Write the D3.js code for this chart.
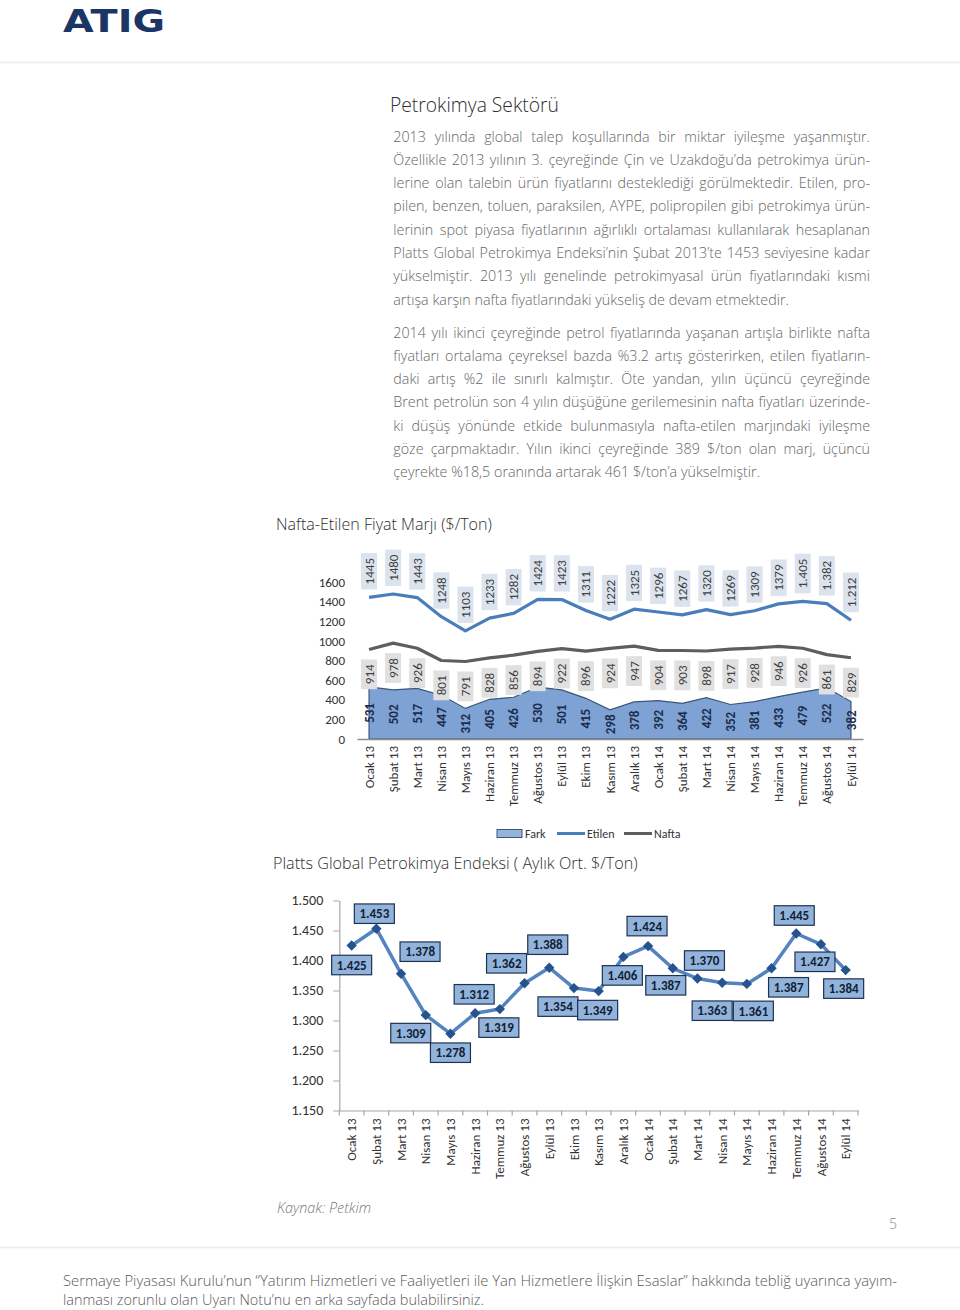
<!DOCTYPE html>
<html>
<head>
<meta charset="utf-8">
<script src="https://cdn.jsdelivr.net/npm/d3@7"></script>
<style>
  body { margin: 0; background: #fff; }
  svg { display: block; }
</style>
</head>
<body>
<svg id="page" width="960" height="1310"></svg>
<script>
// ---------------- DATA ----------------
const months = ["Ocak 13","Şubat 13","Mart 13","Nisan 13","Mayıs 13","Haziran 13","Temmuz 13","Ağustos 13","Eylül 13","Ekim 13","Kasım 13","Aralık 13","Ocak 14","Şubat 14","Mart 14","Nisan 14","Mayıs 14","Haziran 14","Temmuz 14","Ağustos 14","Eylül 14"];
const fark   = [531,502,517,447,312,405,426,530,501,415,298,378,392,364,422,352,381,433,479,522,382];
const etilen = [1445,1480,1443,1248,1103,1233,1282,1424,1423,1311,1222,1325,1296,1267,1320,1269,1309,1379,1405,1382,1212];
const nafta  = [914,978,926,801,791,828,856,894,922,896,924,947,904,903,898,917,928,946,926,861,829];
const marginTicks = [0,200,400,600,800,1000,1200,1400,1600];
const seriesNames = ["Fark","Etilen","Nafta"];
const etilenSeparatorFrom = "Temmuz 14"; // labels from this month on are printed with a thousands dot

const platts = [1425,1453,1378,1309,1278,1312,1319,1362,1388,1354,1349,1406,1424,1387,1370,1363,1361,1387,1445,1427,1384];
const plattsTicks = [1150,1200,1250,1300,1350,1400,1450,1500];

const chart1Title = "Nafta-Etilen Fiyat Marjı ($/Ton)";
const chart2Title = "Platts Global Petrokimya Endeksi ( Aylık Ort. $/Ton)";

// ---------------- TEXT ----------------
const para1 = [
  "2013 yılında global talep koşullarında bir miktar iyileşme yaşanmıştır.",
  "Özellikle 2013 yılının 3. çeyreğinde Çin ve Uzakdoğu’da petrokimya ürün-",
  "lerine olan talebin ürün fiyatlarını desteklediği görülmektedir. Etilen, pro-",
  "pilen, benzen, toluen, paraksilen, AYPE, polipropilen gibi petrokimya ürün-",
  "lerinin spot piyasa fiyatlarının ağırlıklı ortalaması kullanılarak hesaplanan",
  "Platts Global Petrokimya Endeksi’nin Şubat 2013’te 1453 seviyesine kadar",
  "yükselmiştir. 2013 yılı genelinde petrokimyasal ürün fiyatlarındaki kısmi",
  "artışa karşın nafta fiyatlarındaki yükseliş de devam etmektedir."
];
const para2 = [
  "2014 yılı ikinci çeyreğinde petrol fiyatlarında yaşanan artışla birlikte nafta",
  "fiyatları ortalama çeyreksel bazda %3.2 artış gösterirken, etilen fiyatların-",
  "daki artış %2 ile sınırlı kalmıştır. Öte yandan, yılın üçüncü çeyreğinde",
  "Brent petrolün son 4 yılın düşüğüne gerilemesinin nafta fiyatları üzerinde-",
  "ki düşüş yönünde etkide bulunmasıyla nafta-etilen marjındaki iyileşme",
  "göze çarpmaktadır. Yılın ikinci çeyreğinde 389 $/ton olan marj, üçüncü",
  "çeyrekte %18,5 oranında artarak 461 $/ton’a yükselmiştir."
];
const footer = [
  "Sermaye Piyasası Kurulu’nun “Yatırım Hizmetleri ve Faaliyetleri ile Yan Hizmetlere İlişkin Esaslar” hakkında tebliğ uyarınca yayım-",
  "lanması zorunlu olan Uyarı Notu’nu en arka sayfada bulabilirsiniz."
];

// ---------------- SETUP ----------------
const FONT_CHART = "Carlito, Lato, sans-serif";
const FONT_TEXT = "'Open Sans', sans-serif";
const svg = d3.select("#page");
const trLocale = d3.formatLocale({decimal: ",", thousands: ".", grouping: [3], currency: ["", ""]});
const fmtTR = trLocale.format(",d");
const fmtPlain = d3.format("d");

function fitText(sel, target) {
  const fs = parseFloat(sel.attr("font-size"));
  const L = sel.node().getComputedTextLength();
  sel.attr("font-size", fs * target / L);
  return sel;
}

// ---------------- HEADER ----------------
svg.append("text").attr("x", 63).attr("y", 31.5)
  .attr("font-family", "'DejaVu Sans', sans-serif").attr("font-weight", "bold")
  .attr("font-size", 32.5).attr("fill", "#1b3564")
  .attr("textLength", 102).attr("lengthAdjust", "spacingAndGlyphs")
  .text("ATIG");
svg.append("line").attr("x1", 0).attr("x2", 960).attr("y1", 62.5).attr("y2", 62.5)
  .attr("stroke", "#ececec").attr("stroke-width", 1.5);

// ---------------- BODY TEXT ----------------
const titleSel = svg.append("text").attr("x", 390).attr("y", 112)
  .attr("font-family", FONT_TEXT).attr("font-weight", 300).attr("font-size", 20).attr("fill", "#2e2e2e")
  .text("Petrokimya Sektörü");
fitText(titleSel, 169);

// compute body font size from a naturally-set last line
const probe = svg.append("text").attr("font-family", FONT_TEXT).attr("font-weight", 300)
  .attr("font-size", 14).text(para1[para1.length - 1]);
const bodyFs = 14 * 396 / probe.node().getComputedTextLength();
probe.remove();

function paragraph(lines, y0) {
  const lh = 23.3, x = 393.3, width = 476.7;
  lines.forEach((ln, i) => {
    const t = svg.append("text").attr("x", x).attr("y", y0 + i * lh)
      .attr("font-family", FONT_TEXT).attr("font-weight", 300)
      .attr("font-size", bodyFs).attr("fill", "#666").text(ln);
    if (i < lines.length - 1) {
      const L = t.node().getComputedTextLength();
      const n = (ln.match(/ /g) || []).length;
      if (n > 0) t.style("word-spacing", ((width - L) / n) + "px");
    }
  });
}
paragraph(para1, 141.5);
paragraph(para2, 337.5);

// ---------------- CHART 1 ----------------
const t1 = svg.append("text").attr("x", 276).attr("y", 530)
  .attr("font-family", FONT_TEXT).attr("font-weight", 300).attr("font-size", 17).attr("fill", "#2e2e2e").text(chart1Title);
fitText(t1, 216);

const x1 = d3.scaleBand().domain(months).range([357, 863]);
const cx1 = m => x1(m) + x1.bandwidth() / 2;
const y1 = d3.scaleLinear().domain([0, 1600]).range([739, 582.2]);
const g1 = svg.append("g");

// Fark area
g1.append("path").datum(fark)
  .attr("d", d3.area().x((d, i) => cx1(months[i])).y0(y1(0)).y1(d => y1(d)))
  .attr("fill", "#7ea2d3").attr("stroke", "#3c5678").attr("stroke-width", 1.2);

// axes
g1.append("g").attr("transform", "translate(348,0)")
  .call(d3.axisLeft(y1).tickValues(marginTicks).tickSize(0).tickPadding(3).tickFormat(fmtPlain))
  .call(g => g.select(".domain").remove())
  .selectAll("text").attr("font-size", 13).attr("font-family", FONT_CHART).attr("fill", "#333");

g1.append("g").attr("transform", "translate(0,739)")
  .call(d3.axisBottom(x1).tickSize(0).tickSizeOuter(0))
  .call(g => g.select(".domain").attr("stroke", "#8c8c8c").attr("stroke-width", 1.6))
  .selectAll("text")
  .attr("transform", "rotate(-90)").attr("x", -7).attr("y", 0).attr("dy", "0.35em")
  .style("text-anchor", "end").attr("font-size", 13).attr("font-family", FONT_CHART).attr("fill", "#333");

// lines
const lineGen1 = d3.line().x((d, i) => cx1(months[i])).y(d => y1(d));
g1.append("path").datum(nafta).attr("d", lineGen1).attr("fill", "none")
  .attr("stroke", "#5e5e5e").attr("stroke-width", 3.2).attr("stroke-linejoin", "round");
g1.append("path").datum(etilen).attr("d", lineGen1).attr("fill", "none")
  .attr("stroke", "#4a7ebb").attr("stroke-width", 3.2).attr("stroke-linejoin", "round");

// labels
const sepIdx = months.indexOf(etilenSeparatorFrom);
function rotLabel(parent, text, boxFill, above) {
  const g = parent.append("g");
  const t = g.append("text").attr("font-family", FONT_CHART).attr("font-size", 13)
    .attr("fill", "#404040").attr("text-anchor", "middle").attr("dy", "0.35em")
    .attr("transform", "rotate(-90)").text(text);
  const L = t.node().getComputedTextLength();
  const h = L + 10;
  const off = above ? -h / 2 : h / 2;
  g.insert("rect", "text").attr("x", -8).attr("width", 16)
    .attr("y", above ? -h : 0).attr("height", h).attr("fill", boxFill);
  t.attr("transform", `translate(0,${off}) rotate(-90)`);
  return g;
}
etilen.forEach((v, i) => {
  const lbl = i >= sepIdx ? fmtTR(v) : fmtPlain(v);
  rotLabel(g1, lbl, "#dbe3ee", true)
    .attr("transform", `translate(${cx1(months[i])},${y1(v) - 8})`);
});
nafta.forEach((v, i) => {
  rotLabel(g1, fmtPlain(v), "#e0e0e0", false)
    .attr("transform", `translate(${cx1(months[i])},${y1(v) + 10})`);
});
fark.forEach((v, i) => {
  g1.append("text").attr("font-family", FONT_CHART).attr("font-size", 13).attr("font-weight", "bold")
    .attr("fill", "#1c2c4a").attr("text-anchor", "middle").attr("dy", "0.35em")
    .attr("transform", `translate(${cx1(months[i])},${y1(v / 2)}) rotate(-90)`)
    .text(fmtPlain(v));
});

// legend
const legend = svg.append("g").attr("font-family", FONT_CHART).attr("font-size", 12).attr("fill", "#333");
const legendX = [497, 557, 624];
seriesNames.forEach((name, i) => {
  const lx = legendX[i];
  if (i === 0) {
    legend.append("rect").attr("x", lx).attr("y", 829.5).attr("width", 25).attr("height", 8)
      .attr("fill", "#94b4dd").attr("stroke", "#3c5678").attr("stroke-width", 1);
  } else {
    legend.append("line").attr("x1", lx).attr("x2", lx + 28).attr("y1", 833.5).attr("y2", 833.5)
      .attr("stroke", i === 1 ? "#4a7ebb" : "#5e5e5e").attr("stroke-width", 3);
  }
  legend.append("text").attr("x", lx + (i === 0 ? 28 : 30)).attr("y", 837.5).text(name);
});

// ---------------- CHART 2 ----------------
const t2 = svg.append("text").attr("x", 273).attr("y", 869)
  .attr("font-family", FONT_TEXT).attr("font-weight", 300).attr("font-size", 17).attr("fill", "#2e2e2e").text(chart2Title);
fitText(t2, 365);

const x2 = d3.scaleBand().domain(months).range([339.3, 858]);
const cx2 = m => x2(m) + x2.bandwidth() / 2;
const y2 = d3.scaleLinear().domain([1150, 1500]).range([1110.5, 900.5]);
const g2 = svg.append("g");

g2.append("g").attr("transform", "translate(339.3,0)")
  .call(d3.axisLeft(y2).tickValues(plattsTicks).tickSize(6).tickSizeOuter(0).tickPadding(10).tickFormat(fmtTR))
  .call(g => g.select(".domain").attr("stroke", "#a6a6a6").attr("stroke-width", 1.2))
  .call(g => g.selectAll(".tick line").attr("stroke", "#a6a6a6"))
  .selectAll("text").attr("font-size", 14).attr("font-family", FONT_CHART).attr("fill", "#333");

g2.append("g").attr("transform", "translate(0,1110.5)")
  .call(d3.axisBottom(x2).tickSize(0).tickSizeOuter(0))
  .call(g => g.select(".domain").attr("stroke", "#a6a6a6").attr("stroke-width", 1.2))
  .selectAll("text")
  .attr("transform", "rotate(-90)").attr("x", -8).attr("y", 0).attr("dy", "0.35em")
  .style("text-anchor", "end").attr("font-size", 13).attr("font-family", FONT_CHART).attr("fill", "#333");

// category boundary ticks
g2.append("g").selectAll("line").data(months.map(m => x2(m)).concat([x2.range()[1]]))
  .join("line").attr("x1", d => d).attr("x2", d => d)
  .attr("y1", 1110.5).attr("y2", 1115.5).attr("stroke", "#a6a6a6").attr("stroke-width", 1.2);

g2.append("path").datum(platts)
  .attr("d", d3.line().x((d, i) => cx2(months[i])).y(d => y2(d)))
  .attr("fill", "none").attr("stroke", "#5483c0").attr("stroke-width", 3.5).attr("stroke-linejoin", "round");

g2.selectAll("path.mk").data(platts).join("path").attr("class", "mk")
  .attr("d", "M0,-5.2L5.2,0L0,5.2L-5.2,0Z")
  .attr("transform", (d, i) => `translate(${cx2(months[i])},${y2(d)})`)
  .attr("fill", "#24538f");

// label placement (dx, dy of box centre relative to its point)
const plattsLabelOffsets = [
  [0,19.5],[-2,-15],[19,-22],[-15,18],[0,19],[-1,-19],[-1,18.5],[-18,-20],[-1.5,-23],[-16,18.5],
  [-1,19],[-1,18.5],[-1,-20],[-7,17],[7,-18],[-10,28],[6.5,27],[17,19],[-2,-18],[-6,17.5],[-2,18.5]
];
platts.forEach((v, i) => {
  const [dx, dy] = plattsLabelOffsets[i];
  const g = g2.append("g").attr("transform", `translate(${cx2(months[i]) + dx},${y2(v) + dy})`);
  g.append("rect").attr("x", -20).attr("y", -9.75).attr("width", 40).attr("height", 19.5)
    .attr("fill", "#93b3da").attr("stroke", "#1d3354").attr("stroke-width", 1.2);
  g.append("text").attr("text-anchor", "middle").attr("dy", "0.36em")
    .attr("font-family", FONT_CHART).attr("font-size", 13).attr("font-weight", "bold")
    .attr("fill", "#0f1f38").text(fmtTR(v));
});

// ---------------- FOOTER ----------------
svg.append("text").attr("x", 277).attr("y", 1213)
  .attr("font-family", FONT_TEXT).attr("font-style", "italic").attr("font-weight", 300)
  .attr("font-size", 14).attr("fill", "#7a7a7a")
  .attr("textLength", 94).attr("lengthAdjust", "spacingAndGlyphs").text("Kaynak: Petkim");
svg.append("text").attr("x", 889).attr("y", 1229)
  .attr("font-family", FONT_TEXT).attr("font-weight", 300).attr("font-size", 14).attr("fill", "#8a8a8a").text("5");
svg.append("line").attr("x1", 0).attr("x2", 960).attr("y1", 1247.5).attr("y2", 1247.5)
  .attr("stroke", "#ececec").attr("stroke-width", 1.5);
const footW = [834, 421];
footer.forEach((ln, i) => {
  svg.append("text").attr("x", 63).attr("y", 1286 + i * 18.5)
    .attr("font-family", FONT_TEXT).attr("font-weight", 300).attr("font-size", 14.5).attr("fill", "#5a5a5a")
    .attr("textLength", footW[i]).attr("lengthAdjust", "spacingAndGlyphs").text(ln);
});
</script>
</body>
</html>
